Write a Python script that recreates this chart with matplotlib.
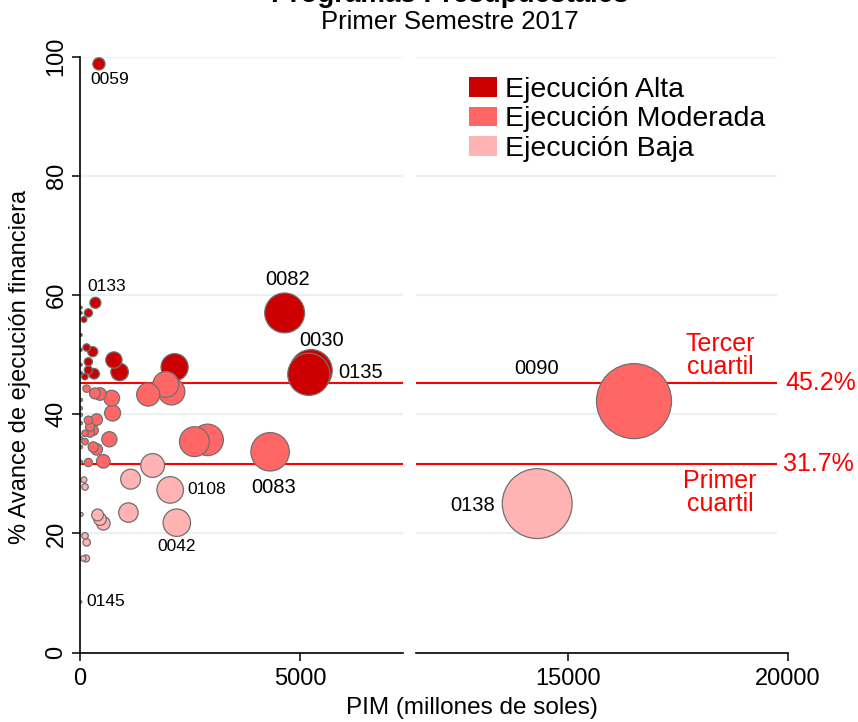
import matplotlib
matplotlib.use('Agg')
import matplotlib.pyplot as plt
from matplotlib.patches import Patch

plt.rcParams['font.family'] = ['Liberation Sans', 'DejaVu Sans']

# --- data: PIM (millones de soles), % avance, codigo del programa ---
pim = [430, 350, 190, 90, 15, 15, 150, 290, 770, 900, 190, 190, 320, 110,
       15, 15, 15, 20, 2150, 4650, 5250, 5200,
       1950, 2080, 1550, 2600, 2900, 4320, 720, 740, 150, 340, 455, 380,
       300, 227, 114, 667, 303, 380, 530, 190, 20, 20, 20, 20, 20, 20, 20,
       190, 227, 114, 16500,
       1650, 2050, 2200, 1150, 1100, 400, 455, 530, 90, 114, 30, 114, 152,
       75, 136, 10, 14300]
avance = [98.8, 58.7, 57.0, 55.9, 57.9, 57.0, 51.2, 50.5, 49.1, 47.1, 48.8,
          47.4, 46.8, 46.3, 53.3, 50.8, 48.3, 46.9, 47.9, 57.0, 47.3, 46.7,
          45.0, 43.8, 43.3, 35.4, 35.7, 33.7, 42.7, 40.2, 44.3, 43.5, 43.4,
          39.1, 37.3, 36.9, 36.8, 35.8, 34.5, 34.1, 32.1, 31.9, 42.4, 41.0,
          39.9, 38.5, 36.0, 34.5, 32.0, 39.0, 37.9, 35.4, 42.2,
          31.4, 27.3, 21.8, 29.1, 23.5, 23.1, 22.4, 21.7, 29.0, 27.8, 23.2,
          19.6, 18.5, 15.8, 15.8, 8.5, 25.0]
codigo = ['0059', '0133', '', '', '', '', '', '', '', '', '', '', '', '',
          '', '', '', '', '', '0082', '0030', '0135',
          '', '', '', '', '', '0083', '', '', '', '', '', '', '', '', '', '',
          '', '', '', '', '', '', '', '', '', '', '', '', '', '', '0090',
          '', '0108', '0042', '', '', '', '', '', '', '', '', '', '', '',
          '', '0145', '0138']

q1, q3 = 31.7, 45.2
categorias = ['Ejecución Alta', 'Ejecución Moderada', 'Ejecución Baja']
colores = ['#CC0000', '#FF6666', '#FFB3B3']

# label offsets (pixels) for the named programs
offsets = {'0059': (11, -16), '0133': (11, 16), '0145': (25, 0),
           '0042': (0, -24), '0108': (36, 0), '0083': (4, -36),
           '0082': (3, 33), '0030': (11, 30), '0135': (52, 2),
           '0090': (-97, 33), '0138': (-65, -2)}


def color_for(v):
    if v >= q3:
        return colores[0]
    if v >= q1:
        return colores[1]
    return colores[2]


W, H = 858, 722
fig = plt.figure(figsize=(W / 100, H / 100), dpi=100)
bottom = 1 - 652.6 / H
height = 595.9 / H
ax1 = fig.add_axes([80 / W, bottom, 323 / W, height])
ax2 = fig.add_axes([416 / W, bottom, 372 / W, height])
ax1.set_xlim(0, 7340)
ax2.set_xlim(11545, 20000)
grid_end = 19750

order = sorted(range(len(pim)), key=lambda i: -pim[i])
for ax in (ax1, ax2):
    ax.set_ylim(0, 100)
    for sp in ('top', 'right'):
        ax.spines[sp].set_visible(False)
    ax.spines['bottom'].set_linewidth(1.2)
    x0, x1 = ax.get_xlim()
    xe = x1 if ax is ax1 else grid_end
    ax.hlines([20, 40, 60, 80, 100], x0, xe, color='#EAF1F1', lw=1.6, zorder=0)
    ax.hlines([q1, q3], x0, xe, color='#FF0000', lw=1.5, zorder=1)
    xs = [pim[i] for i in order]
    ys = [avance[i] for i in order]
    cs = [color_for(avance[i]) for i in order]
    ss = [0.1767 * pim[i] + 2 for i in order]
    ax.scatter(xs, ys, s=ss, c=cs, edgecolors='#707070', linewidths=0.9,
               zorder=2, clip_on=True)
    for i, cod in enumerate(codigo):
        if not cod:
            continue
        if not (x0 <= pim[i] <= x1):
            continue
        fs = 14.5 if pim[i] > 4000 else 12.5
        ax.annotate(cod, (pim[i], avance[i]), xytext=offsets[cod],
                    textcoords='offset pixels', ha='center', va='center',
                    fontsize=fs, color='black', zorder=3)
    ax.tick_params(axis='x', labelsize=17, length=6, width=1.1, pad=5)

ax1.set_xticks([0, 5000])
ax2.set_xticks([15000, 20000])
ax1.set_yticks([0, 20, 40, 60, 80, 100])
ax1.tick_params(axis='y', labelsize=17, length=6, width=1.1, pad=3,
                labelrotation=90)
for lab in ax1.get_yticklabels():
    lab.set_va('center')
ax1.spines['left'].set_linewidth(1.2)
ax2.spines['left'].set_visible(False)
ax2.set_yticks([])

# quartile annotations
red = '#FF0000'
ax2.text(18455, 49.9, 'Tercer\ncuartil', color=red, fontsize=18,
         ha='center', va='center', linespacing=0.95)
ax2.text(18455, 26.8, 'Primer\ncuartil', color=red, fontsize=18,
         ha='center', va='center', linespacing=0.95)
ax2.text(19930, q3, f'{q3}%', color=red, fontsize=18, ha='left',
         va='center', clip_on=False)
ax2.text(19880, q1, f'{q1}%', color=red, fontsize=18, ha='left',
         va='center', clip_on=False)

handles = [Patch(facecolor=c, edgecolor='none', label=l)
           for c, l in zip(colores, categorias)]
fig.legend(handles=handles, loc='upper left',
           bbox_to_anchor=(469 / W, 1 - 77 / H), frameon=False, fontsize=20.5,
           handlelength=1.0, handleheight=0.68, handletextpad=0.25,
           labelspacing=0.12, borderpad=0, borderaxespad=0)

fig.text(449.5 / W, 1 - 2 / H, 'Programas Presupuestales', fontsize=20,
         weight='bold', ha='center', va='baseline')
fig.text(449.5 / W, 1 - 22 / H, 'Primer Semestre 2017', fontsize=18.5,
         ha='center', va='center')
fig.text(472 / W, 1 - 708 / H, 'PIM (millones de soles)', fontsize=17.5,
         ha='center', va='center')
fig.text(20 / W, 1 - 367 / H, '% Avance de ejecución financiera',
         fontsize=17, rotation=90, ha='center', va='center')

fig.savefig('out.png', dpi=100, facecolor='white')
